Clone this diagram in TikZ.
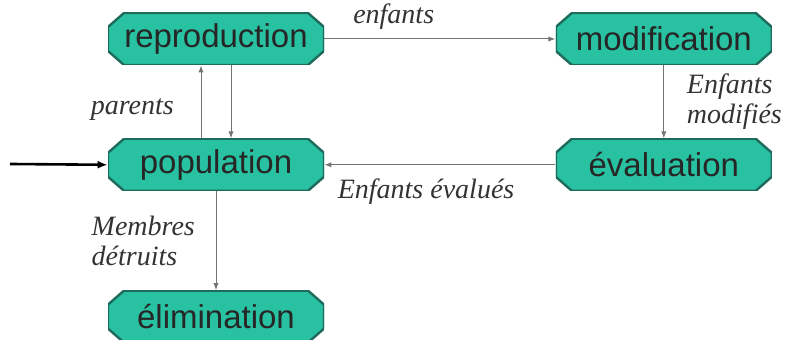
\documentclass[tikz,border=0pt]{standalone}
\usepackage{fontspec}
\setmainfont{Liberation Serif}
\setsansfont{Liberation Sans}
\usetikzlibrary{arrows.meta,positioning}
\definecolor{Vert}{HTML}{28C2A2}
\definecolor{Bord}{HTML}{1E6B5C}
\newcommand{\ppb}{path picture bounding box}

\begin{document}
\begin{tikzpicture}[node distance=36.5pt and 115.5pt,>={Latex[length=3.5pt,width=2.6pt]},
  etape/.style={rectangle,minimum width=108pt,minimum height=26pt,inner sep=0pt,font=\sffamily\fontsize{16.5}{18}\selectfont,text=black!85,
    path picture={\filldraw[draw=Bord,fill=Vert,line width=1.2pt]
      ([xshift=8pt]\ppb.north west) -- ([xshift=-8pt]\ppb.north east) -- ([yshift=-7pt]\ppb.north east) -- ([yshift=7pt]\ppb.south east)
      -- ([xshift=-8pt]\ppb.south east) -- ([xshift=8pt]\ppb.south west) -- ([yshift=7pt]\ppb.south west) -- ([yshift=-7pt]\ppb.north west) -- cycle;}},
  fleche/.style={->,draw=black!55,line width=0.5pt},
  lbl/.style={font=\itshape\fontsize{14}{15}\selectfont,text=black!80,align=left}]
\useasboundingbox (0,0) rectangle (396.5pt,-170pt);
\node[etape] (rep) at (108pt,-19.5pt) {reproduction};
\node[etape,right=of rep] (mod) {modification};
\node[etape,below=of rep] (pop) {population};
\node[etape,below=of mod] (eval) {évaluation};
\node[etape,below=49.5pt of pop] (elim) {élimination};
\coordinate (entree) at (5pt,-82pt);
\draw[fleche] (rep) -- node[lbl,pos=0.3,above=1pt]{enfants} (mod);
\draw[fleche] (mod) -- node[lbl,right=8pt]{Enfants\\modifiés} (eval);
\draw[fleche] (eval) -- node[lbl,pos=0.56,below=3.5pt]{Enfants évalués} (pop);
\draw[fleche] ([xshift=-7.5pt]pop.north) -- node[lbl,pos=0.4,left=10pt]{parents} ([xshift=-7.5pt]rep.south);
\draw[fleche] ([xshift=7.5pt]rep.south) -- ([xshift=7.5pt]pop.north);
\draw[fleche] (pop) -- node[lbl,left=7pt]{Membres\\détruits} (elim);
\draw[->,line width=1.3pt,>={Latex[length=5pt,width=4pt]}] (entree) -- (pop.west);
\end{tikzpicture}
\end{document}
